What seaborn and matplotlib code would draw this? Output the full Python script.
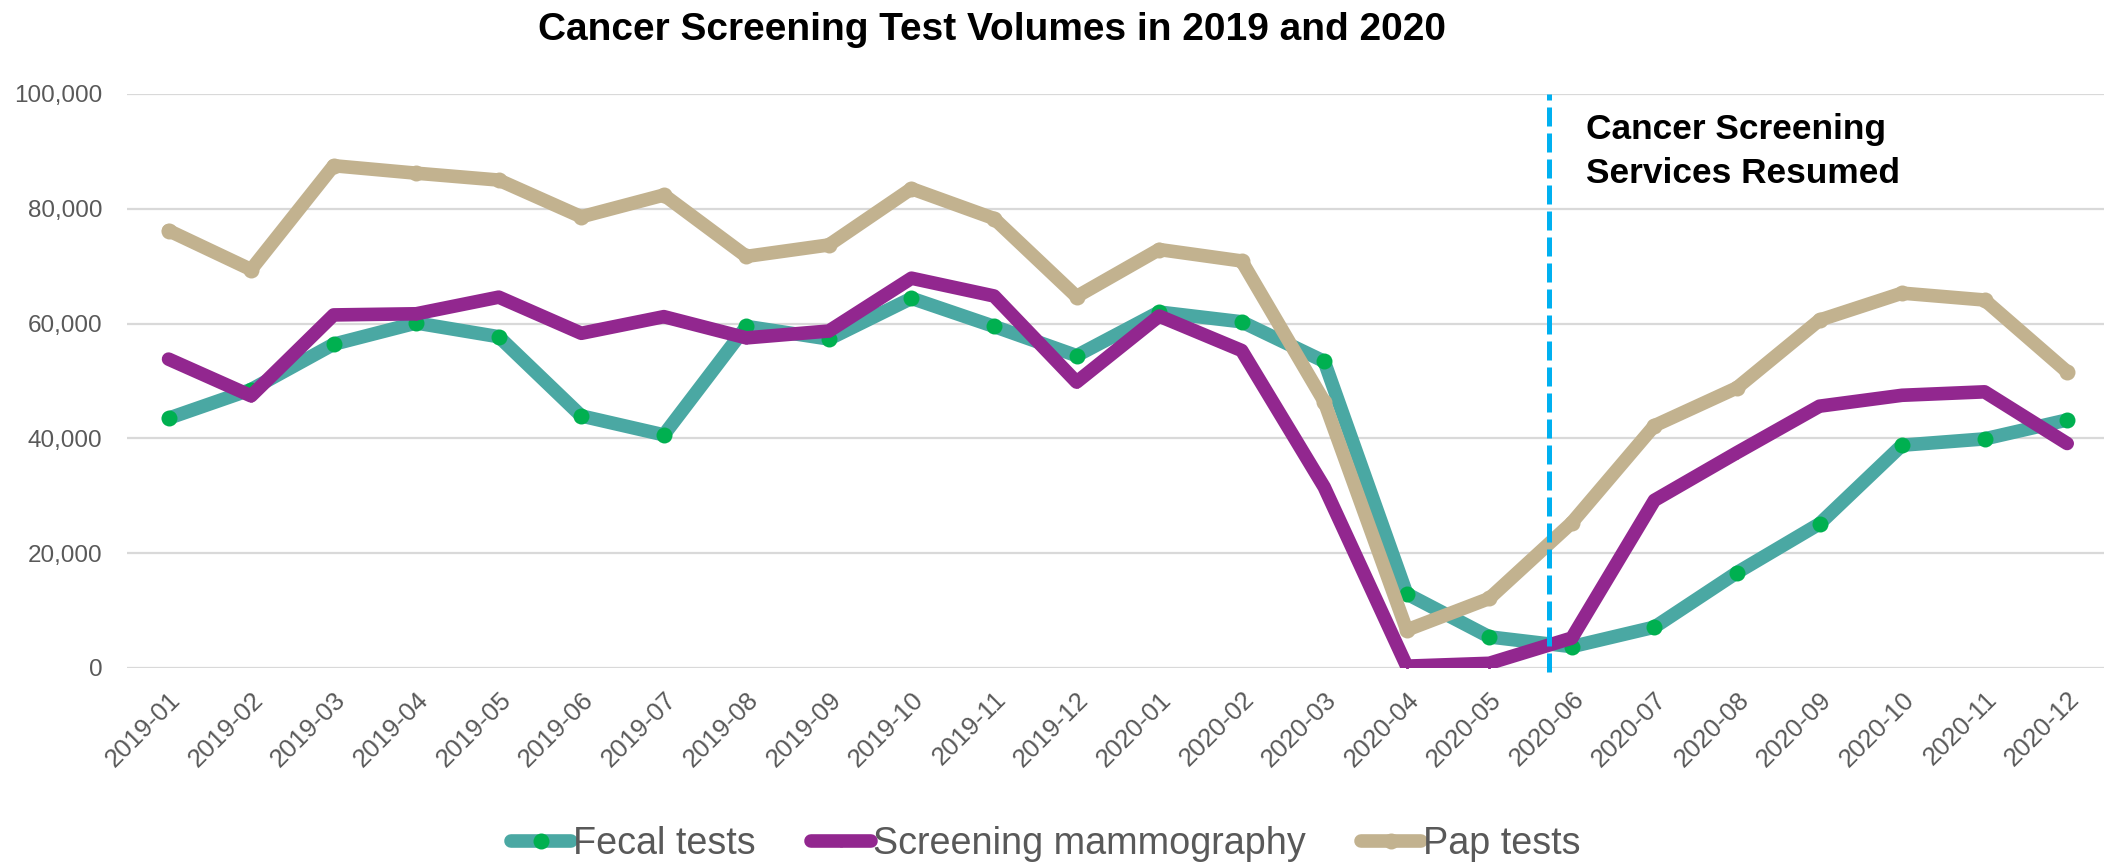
import numpy as np
import pandas as pd
import seaborn as sns
import matplotlib.pyplot as plt
from matplotlib.ticker import FuncFormatter

months = ['2019-01', '2019-02', '2019-03', '2019-04', '2019-05', '2019-06',
          '2019-07', '2019-08', '2019-09', '2019-10', '2019-11', '2019-12',
          '2020-01', '2020-02', '2020-03', '2020-04', '2020-05', '2020-06',
          '2020-07', '2020-08', '2020-09', '2020-10', '2020-11', '2020-12']

fecal = [43500, 48500, 56400, 60100, 57700, 43900, 40600, 59500, 57300, 64400, 59500, 54400,
         62000, 60300, 53400, 12900, 5400, 3700, 7100, 16600, 25100, 38800, 39900, 43200]
mammo = [53800, 47400, 61500, 61700, 64600, 58300, 61200, 57500, 58700, 67900, 64800, 49800,
         61300, 55300, 31500, 300, 800, 5200, 29200, 37500, 45600, 47500, 48100, 39100]
pap = [76200, 69400, 87500, 86200, 85000, 78600, 82400, 71700, 73700, 83500, 78300, 64700,
       72900, 70900, 46400, 6600, 12100, 25300, 42200, 48800, 60600, 65300, 64100, 51600]

series_names = ['Fecal tests', 'Screening mammography', 'Pap tests']
resume_x = 16.72
resume_text = 'Cancer Screening\nServices Resumed'
title = 'Cancer Screening Test Volumes in 2019 and 2020'

df = pd.DataFrame({
    'month': months * 3,
    'value': fecal + mammo + pap,
    'series': np.repeat(series_names, len(months)),
})

sns.set_style('white')
plt.rcParams['font.family'] = ['Liberation Sans', 'DejaVu Sans']

fig = plt.figure(figsize=(21.04, 8.63), dpi=100)
ax = fig.add_axes([0.0605, 0.2261, 0.9416, 0.665])

grey = '#595959'
lw = 9.8

# fecal tests
sns.lineplot(data=df[df.series == 'Fecal tests'], x='month', y='value', ax=ax,
             color='#4AA8A3', linewidth=lw, marker='o', markersize=11.5,
             markerfacecolor='#00B050', markeredgecolor='#00B050', markeredgewidth=0,
             solid_joinstyle='round', solid_capstyle='round', label='Fecal tests')
# mammography
sns.lineplot(data=df[df.series == 'Screening mammography'], x='month', y='value', ax=ax,
             color='#92278F', linewidth=lw, marker='+', markersize=9,
             markeredgecolor='#92278F', markeredgewidth=2,
             solid_joinstyle='round', solid_capstyle='round', label='Screening mammography')
# pap tests
sns.lineplot(data=df[df.series == 'Pap tests'], x='month', y='value', ax=ax,
             color='#C2B28F', linewidth=lw, marker='o', markersize=11.5,
             markerfacecolor='#C2B28F', markeredgecolor='#C2B28F', markeredgewidth=0,
             solid_joinstyle='round', solid_capstyle='round', label='Pap tests')

ax.vlines(resume_x, -800, 100000, colors='#00B0F0', linewidth=3.6,
          linestyles=(0, (3.8, 1.4)), clip_on=False, zorder=5)
ax.text(17.17, 96700, resume_text, fontsize=25.4, fontweight='bold', color='black',
        ha='left', va='top', linespacing=1.43)

ax.set_xlim(-0.5, 23.5)
ax.set_ylim(0, 100000)
ax.set_yticks(range(0, 100001, 20000))
ax.yaxis.set_major_formatter(FuncFormatter(lambda v, p: f'{int(v):,}'))
ax.grid(axis='y', color='#D9D9D9', linewidth=1.6)
ax.set_axisbelow(True)
for s in ax.spines.values():
    s.set_visible(False)
ax.set_xlabel('')
ax.set_ylabel('')
ax.tick_params(axis='y', length=0, pad=18, labelsize=17.5, labelcolor=grey)
ax.tick_params(axis='x', length=0, pad=14, labelsize=18.5, labelcolor=grey)
plt.setp(ax.get_xticklabels(), rotation=45, ha='right', rotation_mode='anchor')

handles, labels = ax.get_legend_handles_labels()
if ax.get_legend() is not None:
    ax.get_legend().remove()
leg = fig.legend(handles, labels, loc='center', bbox_to_anchor=(0.497, 0.022), ncol=3,
                 frameon=False, fontsize=27.2, handlelength=1.6, handletextpad=0.05,
                 columnspacing=1.45, borderpad=0)
for t in leg.get_texts():
    t.set_color(grey)

fig.text(0.4715, 0.9537, title, ha='center', va='baseline', fontsize=28,
         fontweight='bold', color='black')

fig.savefig('out.png', dpi=100)
